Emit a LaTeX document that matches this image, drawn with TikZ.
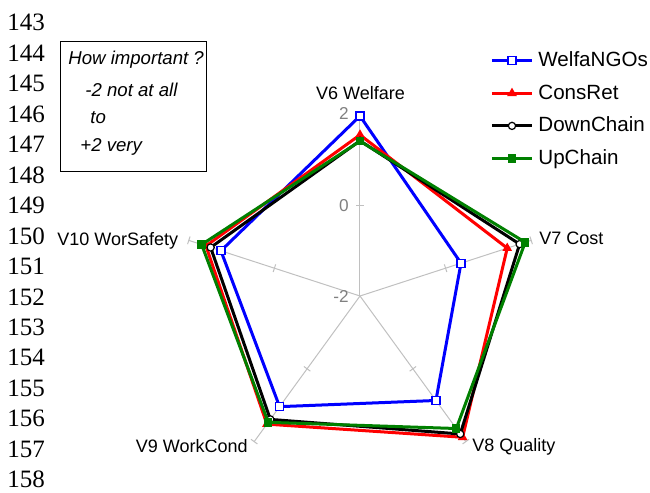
\documentclass[tikz,border=0pt]{standalone}
\usepackage{fontspec}
\setmainfont{Liberation Serif}
\setsansfont{Liberation Sans}
\usetikzlibrary{shapes.geometric,calc}

\begin{document}
\begin{tikzpicture}[x=.5pt,y=.5pt,
  axisline/.style={draw=gr1,line width=.5pt},
  axislbl/.style={font=\sffamily\fontsize{9}{10}\selectfont,inner sep=0pt},
  scalelbl/.style={font=\sffamily\fontsize{8.6}{10}\selectfont,text=gr2,inner sep=0pt,anchor=east},
  legtxt/.style={font=\sffamily\fontsize{10.3}{12}\selectfont,inner sep=0pt,anchor=base west},
  notetxt/.style={font=\sffamily\itshape\fontsize{9.3}{11}\selectfont,inner sep=0pt,anchor=base west},
  rownum/.style={font=\rmfamily\fontsize{12.5}{14}\selectfont,inner sep=0pt,anchor=base west},
  serline/.style={line width=1.5pt},
  mkWelfa/.style={rectangle,draw=cw,fill=white,line width=.6pt,minimum size=4pt,inner sep=0pt},
  mkCons/.style={regular polygon,regular polygon sides=3,fill=cc,minimum size=5.6pt,inner sep=0pt},
  mkDown/.style={circle,draw=cd,fill=white,line width=.6pt,minimum size=3.6pt,inner sep=0pt},
  mkUp/.style={rectangle,fill=cu,minimum size=4.2pt,inner sep=0pt}]
 \definecolor{cw}{RGB}{0,0,255}
 \definecolor{cc}{RGB}{255,0,0}
 \definecolor{cd}{RGB}{0,0,0}
 \definecolor{cu}{RGB}{0,128,0}
 \definecolor{gr1}{RGB}{192,192,192}
 \definecolor{gr2}{RGB}{128,128,128}
 \useasboundingbox (0,0) rectangle (650,493);

 % row numbers of the sheet
 \foreach \n [count=\k from 0] in {143,...,158}
   \node[rownum] (r\n) at (7,{462-30.45*\k}) {\n};

 % note box
 \draw[line width=.5pt] (61,451.3) rectangle (207,321.3);
 \node[notetxt] (n1) at (68,428) {How important ?};
 \node[notetxt] (n2) at (85,396.3) {-2 not at all};
 \node[notetxt] (n3) at (90,369.7) {to};
 \node[notetxt] (n4) at (80,341.3) {+2 very};

 \begin{scope}[shift={(360,197)}]
   \coordinate (ctr) at (0,0);
   \foreach \a [count=\i] in {90,18,-54,-126,-198} {
     \draw[axisline] (ctr) -- (\a:180) coordinate (ax\i);
     \draw[axisline,rotate=\a] (90,-4) -- (90,4) (180,-4) -- (180,4);
   }
   \node[scalelbl] (lb2) at (-11,182.7) {2};
   \node[scalelbl] (lb0) at (-11,90) {0};
   \node[scalelbl] (lbm) at (-11,0) {-2};

   \foreach \col/\mk/\va/\vb/\vc/\vd/\ve [count=\s] in {
     cw/mkWelfa/2/.36/.87/1.04/1.25,
     cc/mkCons/1.58/1.44/1.88/1.52/1.6,
     cd/mkDown/1.45/1.73/1.79/1.39/1.49,
     cu/mkUp/1.44/1.86/1.64/1.47/1.70
   } {
     \coordinate (s\s-1) at (90:{45*(\va+2)});
     \coordinate (s\s-2) at (18:{45*(\vb+2)});
     \coordinate (s\s-3) at (-54:{45*(\vc+2)});
     \coordinate (s\s-4) at (-126:{45*(\vd+2)});
     \coordinate (s\s-5) at (-198:{45*(\ve+2)});
     \draw[\col,serline] (s\s-1) -- (s\s-2) -- (s\s-3) -- (s\s-4) -- (s\s-5) -- cycle;
     \foreach \i in {1,...,5}
       \node[\mk] (m\s-\i) at (s\s-\i) {};
   }
 \end{scope}

 % axis names
 \node[axislbl,anchor=base] (v6) at (360.5,393.7) {V6 Welfare};
 \node[axislbl,anchor=base west] (v7) at (539,248) {V7 Cost};
 \node[axislbl,anchor=base west] (v8) at (472,41.3) {V8 Quality};
 \node[axislbl,anchor=base east] (v9) at (248,40) {V9 WorkCond};
 \node[axislbl,anchor=base east] (v10) at (178.5,247) {V10 WorSafety};

 % legend
 \foreach \col/\mk/\txt [count=\k] in {
   cw/mkWelfa/WelfaNGOs, cc/mkCons/ConsRet,
   cd/mkDown/DownChain, cu/mkUp/UpChain
 } {
   \coordinate (la\k) at (492,{432.3-32.6*(\k-1)});
   \coordinate (lb\k) at (532,{432.3-32.6*(\k-1)});
   \draw[\col,serline] (la\k) -- (lb\k);
   \node[\mk] (lm\k) at ($(la\k)!.5!(lb\k)$) {};
   \node[legtxt] (leg\k) at (538,{426.3-32.6*(\k-1)}) {\txt};
 }
\end{tikzpicture}
\end{document}
